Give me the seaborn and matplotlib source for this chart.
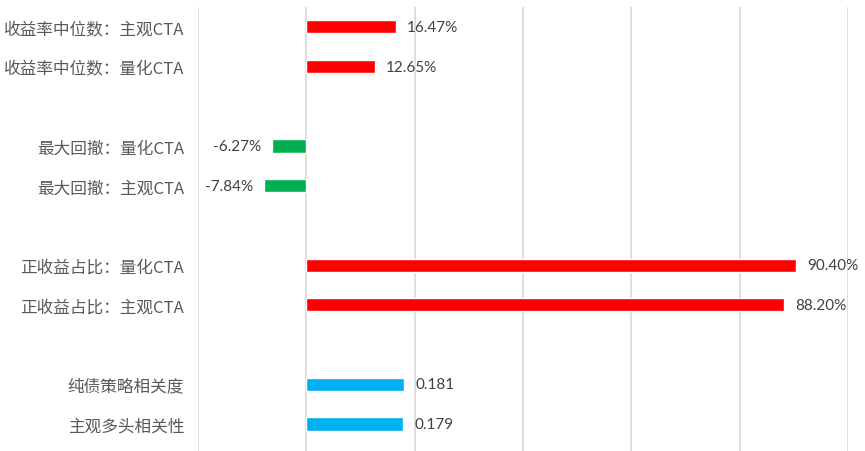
import matplotlib
matplotlib.use("Agg")
import matplotlib.pyplot as plt
import seaborn as sns
import pandas as pd
import numpy as np

categories = ["收益率中位数：主观CTA", "收益率中位数：量化CTA",
              "最大回撤：量化CTA", "最大回撤：主观CTA",
              "正收益占比：量化CTA", "正收益占比：主观CTA",
              "纯债策略相关度", "主观多头相关性"]
values = [0.1647, 0.1265, -0.0627, -0.0784, 0.904, 0.882, 0.181, 0.179]
value_labels = ["16.47%", "12.65%", "-6.27%", "-7.84%", "90.40%", "88.20%", "0.181", "0.179"]
bar_colors = ["#FF0000", "#FF0000", "#00B050", "#00B050",
              "#FF0000", "#FF0000", "#00B0F0", "#00B0F0"]
xticks = [-0.2, 0.0, 0.2, 0.4, 0.6, 0.8, 1.0]

order = [categories[0], categories[1], " ",
         categories[2], categories[3], "  ",
         categories[4], categories[5], "   ",
         categories[6], categories[7]]

df = pd.DataFrame({"cat": categories, "val": values})
palette = dict(zip(categories, bar_colors))
label_map = dict(zip(categories, value_labels))

sns.set_theme(style="white")
plt.rcParams["font.family"] = ["Noto Sans CJK SC", "DejaVu Sans"]

fig = plt.figure(figsize=(8.65, 4.52), dpi=100)
ax = fig.add_axes([198 / 865, 0, 650 / 865, 444 / 452])

sns.barplot(data=df, y="cat", x="val", order=order, hue="cat", hue_order=categories,
            palette=palette, dodge=False, legend=False, width=0.33,
            orient="h", ax=ax, saturation=1)

ax.set_xlim(-0.2, 1.0)
ax.set_ylim(10.68, -0.5)
ax.set_xticks(xticks)
ax.set_xticklabels([])
ax.xaxis.grid(True, color="#D9D9D9", linewidth=1.2)
ax.yaxis.grid(False)
for s in ax.spines.values():
    s.set_visible(False)
ax.set_xlabel("")
ax.set_ylabel("")
ax.tick_params(axis="both", length=0)
ax.tick_params(axis="y", pad=10, labelsize=12, labelcolor="#595959")
for t in ax.get_yticklabels():
    t.set_family(["Noto Sans CJK SC", "DejaVu Sans"])

for cont in ax.containers:
    labs = []
    for bar in cont:
        yc = bar.get_y() + bar.get_height() / 2
        idx = int(round(yc))
        name = order[idx]
        labs.append(label_map.get(name, ""))
    ax.bar_label(cont, labels=labs, padding=8, fontsize=11, color="#404040",
                 family=["Lato", "DejaVu Sans"])

fig.savefig("out.png", dpi=100)
